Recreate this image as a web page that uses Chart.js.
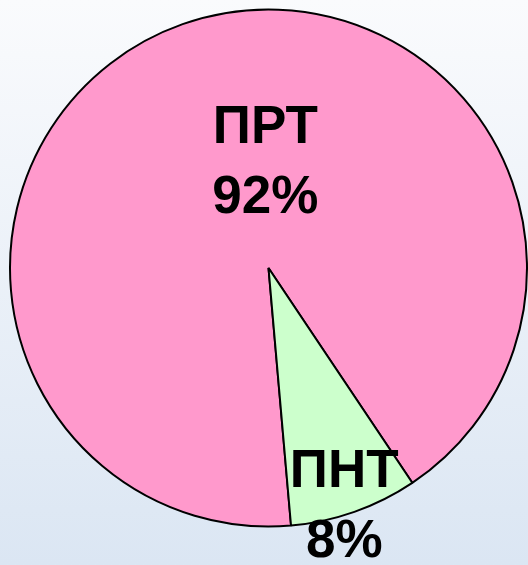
<!DOCTYPE html>
<html>
<head>
<meta charset="utf-8">
<script src="https://cdn.jsdelivr.net/npm/chart.js@4/dist/chart.umd.min.js"></script>
<style>
  html, body { margin: 0; padding: 0; }
  body { width: 528px; height: 565px; overflow: hidden;
         background: linear-gradient(#fafbfd, #dbe6f3); }
  #wrap { width: 528px; height: 565px; position: relative; }
</style>
</head>
<body>
<div id="wrap"><canvas id="pie"></canvas></div>
<script>
const categories = ["ПРТ", "ПНТ"];
const shares = [92, 8];
const percentLabels = ["92%", "8%"];
const sliceColors = ["#ff99cc", "#ccffcc"];

// where each slice's text sits, relative to the pie centre, in radii
const labelSpots = [[-0.012, -0.405], [0.293, 0.927]];

const sliceText = {
    id: "sliceText",
    afterDatasetsDraw(chart) {
        const ctx = chart.ctx;
        const arcs = chart.getDatasetMeta(0).data;
        ctx.save();
        ctx.fillStyle = "#000";
        ctx.font = "bold 53px 'Liberation Sans', Arial, sans-serif";
        ctx.textAlign = "center";
        ctx.textBaseline = "middle";
        arcs.forEach((arc, i) => {
            const {x, y, outerRadius} = arc.getProps(["x", "y", "outerRadius"], true);
            const cx = x + labelSpots[i][0] * outerRadius;
            const cy = y + labelSpots[i][1] * outerRadius;
            ctx.fillText(categories[i], cx, cy - 35);
            ctx.fillText(percentLabels[i], cx, cy + 35);
        });
        ctx.restore();
    }
};

new Chart(document.getElementById("pie"), {
    type: "pie",
    data: {
        labels: categories,
        datasets: [{
            data: shares,
            backgroundColor: sliceColors,
            borderColor: "#000",
            borderWidth: 2,
        }],
    },
    options: {
        responsive: true,
        maintainAspectRatio: false,
        animation: false,
        rotation: 175,
        layout: { padding: { left: 9, right: 0, top: 8, bottom: 37 } },
        plugins: { legend: { display: false }, tooltip: { enabled: false } },
    },
    plugins: [sliceText],
});
</script>
</body>
</html>
